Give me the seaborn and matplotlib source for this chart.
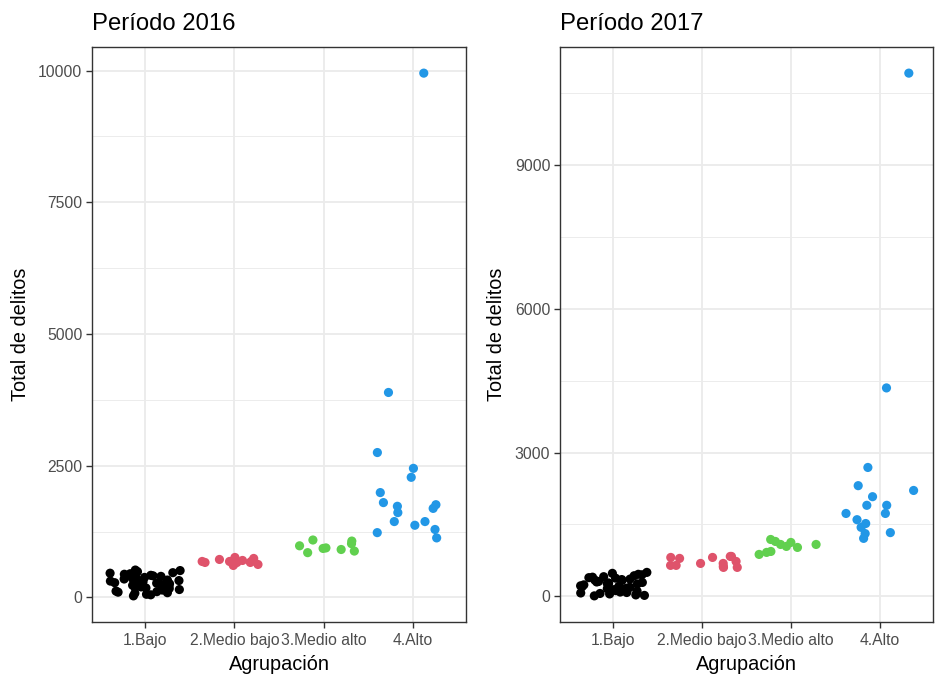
import numpy as np
import pandas as pd
import matplotlib
matplotlib.use("Agg")
import matplotlib.pyplot as plt
from matplotlib.ticker import FixedLocator
import seaborn as sns

# Groups and colours
grupos = ["1.Bajo", "2.Medio bajo", "3.Medio alto", "4.Alto"]
colores = ["#000000", "#DF536B", "#61D04F", "#2297E6"]

# Total de delitos por municipio, 2016
bajo_2016 = [310, 420, 250, 180, 90, 380, 450, 520, 300, 200, 150, 60, 350, 400,
             280, 240, 110, 30, 330, 460, 490, 270, 190, 120, 410, 360, 220, 80,
             300, 440, 510, 170, 260, 390, 140, 50, 320, 470, 230, 100]
medio_bajo_2016 = [664, 702, 721, 683, 607, 626, 759, 683, 683, 664, 645, 664, 740]
medio_alto_2016 = [1020, 1090, 850, 880, 980, 940, 930, 1070, 910]
alto_2016 = [9950, 2280, 1730, 1690, 1440, 1990, 1290, 1130, 1440, 1370, 1610,
             1760, 1800, 3890, 2450, 2750, 1230]

# Total de delitos por municipio, 2017
bajo_2017 = [450, 500, 380, 120, 60, 300, 250, 400, 200, 90, 330, 280, 150, 30,
             480, 350, 220, 110, 20, 410, 260, 170, 70, 390, 310, 140, 240, 460,
             50, 190, 360, 100, 430, 290, 80, 210, 340, 160, 10, 270]
medio_bajo_2017 = [833, 812, 604, 833, 646, 729, 687, 687, 792, 604, 812, 625, 646]
medio_alto_2017 = [1042, 1125, 917, 1021, 1083, 875, 1146, 1083, 1187, 937]
alto_2017 = [2310, 1730, 1520, 2080, 1900, 1310, 1600, 1900, 1330, 4350, 2690,
             10920, 2210, 1440, 1210, 1730]

ticks_2016 = [0, 2500, 5000, 7500, 10000]
minor_2016 = [1250, 3750, 6250, 8750]
ticks_2017 = [0, 3000, 6000, 9000]
minor_2017 = [1500, 4500, 7500, 10500]


def frame(series):
    rows = []
    for g, vals in zip(grupos, series):
        rows += [(g, v) for v in vals]
    return pd.DataFrame(rows, columns=["Agrupación", "Total"])


df16 = frame([bajo_2016, medio_bajo_2016, medio_alto_2016, alto_2016])
df17 = frame([bajo_2017, medio_bajo_2017, medio_alto_2017, alto_2017])

sns.set_theme(style="white")
plt.rcParams["font.family"] = ["Liberation Sans", "DejaVu Sans"]

fig = plt.figure(figsize=(9.38, 6.74), dpi=100)
ax1 = fig.add_axes([92 / 938, 52 / 674, 374 / 938, 575 / 674])
ax2 = fig.add_axes([560 / 938, 52 / 674, 373 / 938, 575 / 674])

# fixed seed so the horizontal jitter is reproducible
np.random.seed(2713)
for ax, df, title, major, minor in [
    (ax1, df16, "Período 2016", ticks_2016, minor_2016),
    (ax2, df17, "Período 2017", ticks_2017, minor_2017),
]:
    sns.stripplot(data=df, x="Agrupación", y="Total", hue="Agrupación",
                  order=grupos, hue_order=grupos, palette=colores,
                  jitter=0.4, size=6.6, linewidth=0, legend=False, ax=ax,
                  zorder=3)
    lo, hi = df["Total"].min(), df["Total"].max()
    pad = 0.05 * (hi - lo)
    ax.set_ylim(lo - pad, hi + pad)
    ax.set_xlim(-0.6, 3.6)
    ax.yaxis.set_major_locator(FixedLocator(major))
    ax.yaxis.set_minor_locator(FixedLocator(minor))
    ax.set_yticklabels([str(t) for t in major])
    ax.grid(True, which="major", color="#EBEBEB", linewidth=1.3, zorder=0)
    ax.grid(True, which="minor", axis="y", color="#EBEBEB", linewidth=0.65, zorder=0)
    ax.set_axisbelow(True)
    for s in ax.spines.values():
        s.set_color("#333333")
        s.set_linewidth(1.0)
    ax.tick_params(axis="both", which="major", length=4, width=1.0,
                   color="#333333", labelcolor="#4D4D4D", labelsize=11.3, pad=3,
                   left=True, bottom=True)
    ax.tick_params(axis="x", which="major", pad=4)
    ax.tick_params(axis="y", which="minor", length=0)
    ax.set_xlabel("Agrupación", fontsize=14.3, color="black", labelpad=5)
    ax.set_ylabel("Total de delitos", fontsize=14.3, color="black", labelpad=6)
    ax.set_title(title, loc="left", fontsize=17.2, color="black", pad=12)

fig.savefig("out.png", dpi=100, facecolor="white")
